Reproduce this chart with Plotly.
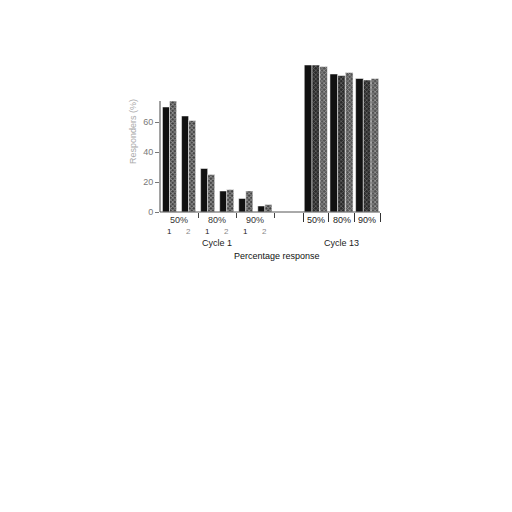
import plotly.graph_objects as go

# Données
cycle1_groups = ["50%", "80%", "90%"]
cycle1_subs = ["1", "2"]
cycle1_black = [70, 64, 29, 14, 9, 4]
cycle1_hatch = [74, 61, 25, 15, 14, 5]

cycle13_groups = ["50%", "80%", "90%"]
cycle13_black = [98, 92, 89]
cycle13_dark = [98, 91, 88]
cycle13_light = [97, 93, 89]

y_ticks = [0, 20, 40, 60]

# Catégories du cycle 1 (groupe + numéro)
cycle1_cats = [g + " " + s for g in cycle1_groups for s in cycle1_subs]

font = "Liberation Sans, Arial, sans-serif"
fig = go.Figure()

# Cycle 1 : barre noire + barre tramée
fig.add_trace(go.Bar(x=cycle1_cats, y=cycle1_black, width=0.37, offset=-0.37,
                     marker=dict(color="#111111", line=dict(width=0.5, color="white")),
                     xaxis="x", yaxis="y"))
fig.add_trace(go.Bar(x=cycle1_cats, y=cycle1_hatch, width=0.37, offset=0.0,
                     marker=dict(color="#666666", line=dict(width=0.5, color="white"),
                                 pattern=dict(shape="x", fgcolor="#e4e4e4", bgcolor="#3e3e3e",
                                              size=3, solidity=0.5)),
                     xaxis="x", yaxis="y"))

# Cycle 13 : trois barres
fig.add_trace(go.Bar(x=cycle13_groups, y=cycle13_black, width=0.3, offset=-0.45,
                     marker=dict(color="#111111", line=dict(width=0.5, color="white")),
                     xaxis="x2", yaxis="y"))
fig.add_trace(go.Bar(x=cycle13_groups, y=cycle13_dark, width=0.3, offset=-0.15,
                     marker=dict(color="#444444", line=dict(width=0.5, color="white"),
                                 pattern=dict(shape="x", fgcolor="#aaaaaa", bgcolor="#2a2a2a",
                                              size=3, solidity=0.4)),
                     xaxis="x2", yaxis="y"))
fig.add_trace(go.Bar(x=cycle13_groups, y=cycle13_light, width=0.3, offset=0.15,
                     marker=dict(color="#777777", line=dict(width=0.5, color="white"),
                                 pattern=dict(shape="x", fgcolor="#dddddd", bgcolor="#555555",
                                              size=3, solidity=0.45)),
                     xaxis="x2", yaxis="y"))


def label(text, x, y, xref, size=9, color="#222222", angle=0):
    return dict(x=x, y=y, xref=xref, yref="paper", text=text, showarrow=False,
                xanchor="center", yanchor="middle", textangle=angle,
                font=dict(size=size, color=color, family=font))


# Étiquettes sous l'axe
annotations = []
for i, g in enumerate(cycle1_groups):
    annotations.append(label(g, 2 * i + 0.5, -0.053, "x", color="#333333"))
    for j, s in enumerate(cycle1_subs):
        annotations.append(label(s, 2 * i + j, -0.133, "x", size=8,
                                 color="#222222" if j == 0 else "#888888"))
for g in cycle13_groups:
    annotations.append(label(g, g, -0.053, "x2"))
annotations += [
    label("Cycle 1", 0.5, -0.207, "x domain"),
    label("Cycle 13", 0.5, -0.207, "x2 domain"),
    label("Percentage response", 0.53, -0.29, "paper", color="#111111"),
    label("Responders (%)", -0.123, 0.54, "paper", color="#aaaaaa", angle=-90),
]

# La page ajoute une marge de 8 px autour de la figure
fig.update_layout(
    width=504, height=504,
    margin=dict(l=152, r=132, t=54, b=300),
    paper_bgcolor="white", plot_bgcolor="white",
    barmode="overlay", showlegend=False,
    font=dict(family=font, size=9, color="#333333"),
    xaxis=dict(domain=[0, 0.52], type="category", range=[-0.5, 5.5],
               tickmode="array", tickvals=[1.5, 3.5, 5.5], ticktext=["", "", ""],
               ticks="outside", ticklen=5, tickcolor="#444444",
               showline=False, showgrid=False, zeroline=False),
    xaxis2=dict(domain=[0.65, 1], type="category", anchor="y", range=[-0.5, 2.5],
                tickmode="array", tickvals=[-0.5, 0.5, 1.5, 2.5], ticktext=["", "", "", ""],
                ticks="outside", ticklen=9, tickcolor="#333333",
                showline=False, showgrid=False, zeroline=False),
    yaxis=dict(range=[0, 100], tickvals=y_ticks, ticks="outside", ticklen=4,
               tickcolor="#777777", tickfont=dict(size=9, color="#777777"),
               showline=False, showgrid=False, zeroline=False),
    annotations=annotations,
    shapes=[
        # axe des y (s'arrête vers 74)
        dict(type="line", xref="paper", yref="y", x0=0, x1=0, y0=0, y1=74,
             line=dict(color="#444444", width=1)),
        # ligne de base sur toute la largeur, y compris entre les deux cycles
        dict(type="line", xref="paper", yref="paper", x0=0, x1=1, y0=0, y1=0,
             line=dict(color="#555555", width=1)),
    ],
)

fig.write_html("out.html")
